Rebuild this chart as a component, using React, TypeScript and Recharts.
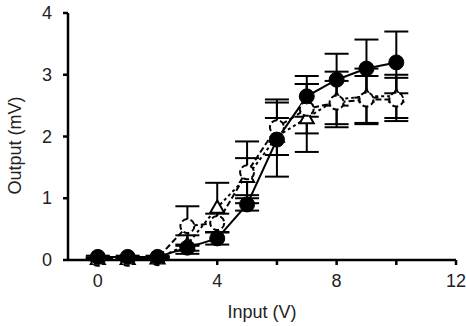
import { ComposedChart, Line, XAxis, YAxis, ErrorBar } from 'recharts';

const inputV = [0, 1, 2, 3, 4, 5, 6, 7, 8, 9, 10];

const filledMean = [0.05, 0.05, 0.05, 0.2, 0.35, 0.9, 1.95, 2.65, 2.92, 3.1, 3.2];
const filledErr = [0.02, 0.02, 0.02, 0.05, 0.1, 0.1, 0.6, 0.33, 0.42, 0.47, 0.5];

const openMean = [0.02, 0.02, 0.03, 0.55, 0.6, 1.42, 2.15, 2.45, 2.55, 2.6, 2.6];
const openErr = [0.02, 0.02, 0.02, 0.32, 0.15, 0.5, 0.45, 0.4, 0.35, 0.38, 0.35];

const triMean = [0.02, 0.02, 0.03, 0.25, 0.85, 1.35, 2.0, 2.3, 2.6, 2.65, 2.65];
const triErr = [0.02, 0.02, 0.02, 0.15, 0.4, 0.3, 0.3, 0.55, 0.45, 0.45, 0.35];

const xTicks = [0, 2, 4, 6, 8, 10, 12];
const yTicks = [0, 1, 2, 3, 4];

const rows = inputV.map((v, i) => ({
  v,
  filled: filledMean[i],
  filledErr: filledErr[i],
  open: openMean[i],
  openErr: openErr[i],
  tri: triMean[i],
  triErr: triErr[i],
}));

const font = '"Liberation Sans", Arial, sans-serif';

const Triangle = (props: any) => {
  const { cx, cy } = props;
  if (cx == null || cy == null) return null;
  const s = 7;
  return (
    <path
      d={`M${cx},${cy - s} L${cx + s},${cy + s * 0.75} L${cx - s},${cy + s * 0.75} Z`}
      fill="#fff"
      stroke="#000"
      strokeWidth={2}
    />
  );
};

const XTick = (props: any) => {
  const { x, y, payload } = props;
  if (payload.value % 4 !== 0) return null;
  return (
    <text x={x} y={y + 20} textAnchor="middle" fill="#222" fontSize={18} fontFamily={font}>
      {payload.value}
    </text>
  );
};

const YTick = (props: any) => {
  const { x, y, payload } = props;
  return (
    <text x={x - 9} y={y + 6} textAnchor="end" fill="#222" fontSize={18} fontFamily={font}>
      {payload.value}
    </text>
  );
};

export default function App() {
  return (
    <div style={{ position: 'absolute', left: 0, top: 0, background: '#fff', fontFamily: font }}>
      <ComposedChart
        width={466}
        height={326}
        data={rows}
        margin={{ top: 13, right: 10, bottom: 16, left: 28 }}
      >
        <XAxis
          type="number"
          dataKey="v"
          domain={[-1, 12]}
          ticks={xTicks}
          height={50}
          stroke="#000"
          strokeWidth={2.5}
          tickSize={5}
          tick={<XTick />}
          label={{ value: 'Input (V)', position: 'insideBottom', offset: -8, fill: '#222', fontSize: 18, fontFamily: font }}
          allowDataOverflow
        />
        <YAxis
          type="number"
          domain={[0, 4]}
          ticks={yTicks}
          width={40}
          stroke="#000"
          strokeWidth={2.5}
          tickSize={5}
          tick={<YTick />}
          label={{ value: 'Output (mV)', angle: -90, position: 'insideLeft', offset: -13, dy: 58, fill: '#222', fontSize: 18, fontFamily: font }}
        />
        <Line
          dataKey="tri"
          stroke="#000"
          strokeWidth={2}
          strokeDasharray="3 3"
          dot={<Triangle />}
          isAnimationActive={false}
        >
          <ErrorBar dataKey="triErr" direction="y" width={12} stroke="#000" strokeWidth={2} />
        </Line>
        <Line
          dataKey="open"
          stroke="#000"
          strokeWidth={2}
          strokeDasharray="6 3"
          dot={{ r: 7, fill: '#fff', stroke: '#000', strokeWidth: 2 }}
          isAnimationActive={false}
        >
          <ErrorBar dataKey="openErr" direction="y" width={12} stroke="#000" strokeWidth={2} />
        </Line>
        <Line
          dataKey="filled"
          stroke="#000"
          strokeWidth={2}
          dot={{ r: 7.5, fill: '#000', stroke: '#000', strokeWidth: 1 }}
          isAnimationActive={false}
        >
          <ErrorBar dataKey="filledErr" direction="y" width={12} stroke="#000" strokeWidth={2} />
        </Line>
      </ComposedChart>
    </div>
  );
}
